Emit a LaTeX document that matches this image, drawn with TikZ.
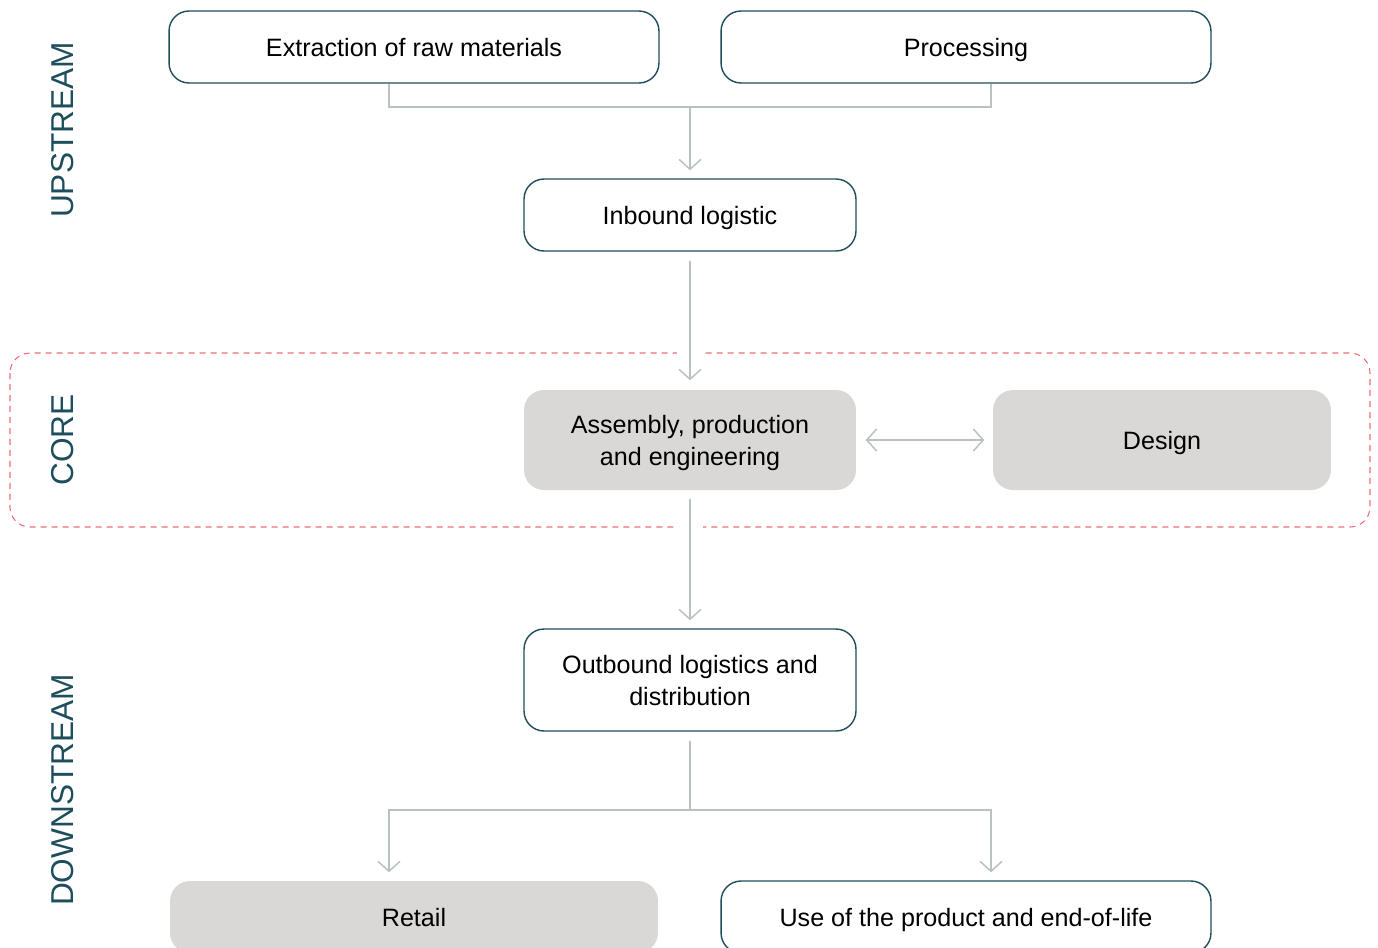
\documentclass[tikz,border=0pt]{standalone}
\usepackage{fontspec}
\setmainfont{Liberation Sans}
\usetikzlibrary{arrows.meta,calc}
\definecolor{boxline}{HTML}{1E4D5C}
\definecolor{boxgrey}{HTML}{D9D8D6}
\definecolor{linkgrey}{HTML}{BAC1C1}
\definecolor{framered}{HTML}{F06C78}

\begin{document}
\begin{tikzpicture}[x=0.02cm,y=-0.02cm,
  box/.style={draw=boxline,line width=0.8pt,rounded corners=0.4cm,fill=white,
    align=center,inner sep=0pt,text depth=0pt,text=black,font=\fontsize{14.3}{18.1}\selectfont},
  greybox/.style={box,draw=none,fill=boxgrey},
  link/.style={draw=linkgrey,line width=0.85pt},
  tip/.style={link,-{Straight Barb[length=0.2cm,width=0.44cm]}},
  both/.style={link,{Straight Barb[length=0.2cm,width=0.44cm]}-{Straight Barb[length=0.2cm,width=0.44cm]}},
  side/.style={rotate=90,text=boxline,font=\fontsize{18}{20}\selectfont}]
 \useasboundingbox (0,0) rectangle (1378,947);
 \clip (0,0) rectangle (1378,947);
 % core frame, open where the arrows pass
 \draw[framered,line width=0.6pt,dash pattern=on 0.12cm off 0.1cm,rounded corners=0.4cm]
   (10,353) rectangle (1370,527);
 \fill[white] (677,349) rectangle (703,357);
 \fill[white] (677,523) rectangle (703,531);
 %
 \node[side] (up) at (63,130) {UPSTREAM};
 \node[side] (co) at (63,440) {CORE};
 \node[side] (dn) at (63,790) {DOWNSTREAM};
 %
 \node[box,minimum width=9.8cm,minimum height=1.44cm] (ex) at (414,47) {Extraction of raw materials};
 \node[box,minimum width=9.8cm,minimum height=1.44cm] (pr) at (966,47) {Processing};
 \node[box,minimum width=6.64cm,minimum height=1.44cm] (in) at (690,215) {Inbound logistic};
 \node[greybox,minimum width=6.64cm,minimum height=2cm] (as) at (690,440) {Assembly, production\\and engineering};
 \node[greybox,minimum width=6.76cm,minimum height=2cm] (de) at (1162,440) {Design};
 \node[box,minimum width=6.64cm,minimum height=2.04cm] (ou) at (690,680) {Outbound logistics and\\distribution};
 \node[greybox,minimum width=9.76cm,minimum height=1.44cm] (re) at (414,917) {Retail};
 \node[box,minimum width=9.8cm,minimum height=1.44cm] (us) at (966,917) {Use of the product and end-of-life};
 %
 \coordinate (j1) at (690,107);
 \coordinate (j2) at (690,810);
 \draw[link] ([xshift=-0.5cm]ex.south) |- ([xshift=0.5cm]pr.south |- j1) -- ([xshift=0.5cm]pr.south);
 \draw[tip] (j1) -- ([yshift=0.16cm]in.north);
 \draw[tip] ([yshift=-0.18cm]in.south) -- ([yshift=0.18cm]as.north);
 \draw[both] ([xshift=0.18cm]as.east) -- ([xshift=-0.16cm]de.west);
 \draw[tip] ([yshift=-0.16cm]as.south) -- ([yshift=0.16cm]ou.north);
 \draw[link] ([yshift=-0.18cm]ou.south) -- (j2);
 \draw[tip] (j2) -| ([xshift=-0.5cm,yshift=0.16cm]re.north);
 \draw[tip] (j2) -| ([xshift=0.5cm,yshift=0.16cm]us.north);
\end{tikzpicture}
\end{document}
